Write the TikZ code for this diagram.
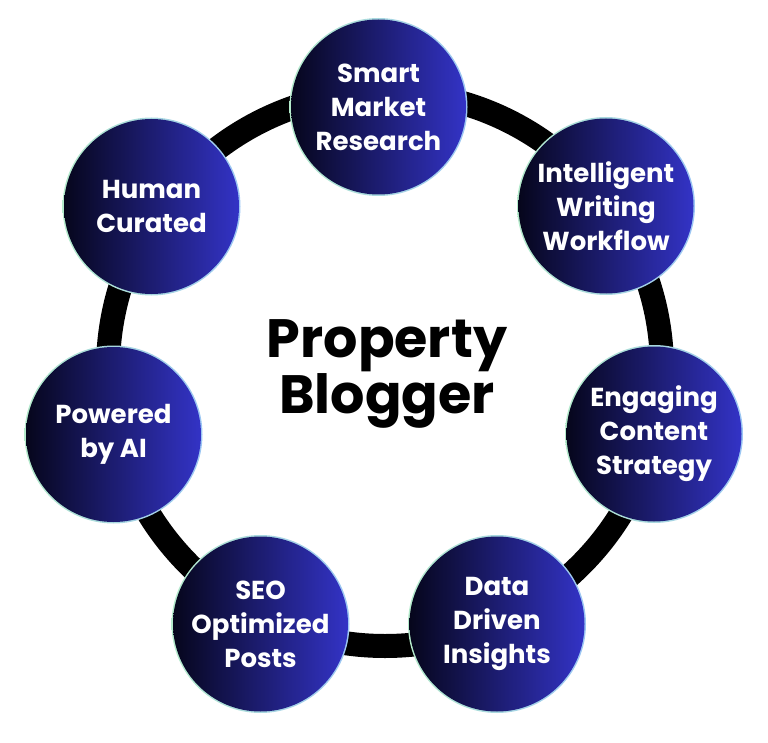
\documentclass[tikz,border=0pt]{standalone}
\usepackage{fontspec}
\setmainfont{Poppins}
\definecolor{fillL}{HTML}{06061C}
\definecolor{fillR}{HTML}{3333C6}
\definecolor{bordL}{HTML}{B4EACB}
\definecolor{bordR}{HTML}{9CC6F4}
\tikzset{
  bubble/.style={circle, inner sep=0pt, minimum size=175pt, left color=fillL, right color=fillR,
    text=white, align=center, font=\bfseries\fontsize{26}{34}\selectfont},
  rim/.style={left color=bordL, right color=bordR},
  ringline/.style={line width=24pt, draw=black},
  title/.style={align=center, font=\bfseries\fontsize{54}{56}\selectfont, text=black}
}
\begin{document}
\begin{tikzpicture}[x=1pt,y=-1pt]
\useasboundingbox (0,0) rectangle (768,743);
\coordinate (hub) at (385,369);
\draw[ringline] (hub) circle[radius=277];
\foreach \n/\x/\y/\t in {
  smart/378.5/107/{Smart\\Market\\Research},
  intel/606/206/{Intelligent\\Writing\\Workflow},
  engage/654/434/{Engaging\\Content\\Strategy},
  data/497/624/{Data\\Driven\\Insights},
  seo/260.5/624/{SEO\\Optimized\\Posts},
  power/113.5/434.5/{Powered\\by AI},
  human/151.5/206.5/{Human\\Curated}}{
  \path[rim] (\x,\y) circle[radius=89];
  \node[bubble] (\n) at (\x,\y) {\t};
}
\node[title] (center) at (387,374) {Property\\Blogger};
\end{tikzpicture}
\end{document}
